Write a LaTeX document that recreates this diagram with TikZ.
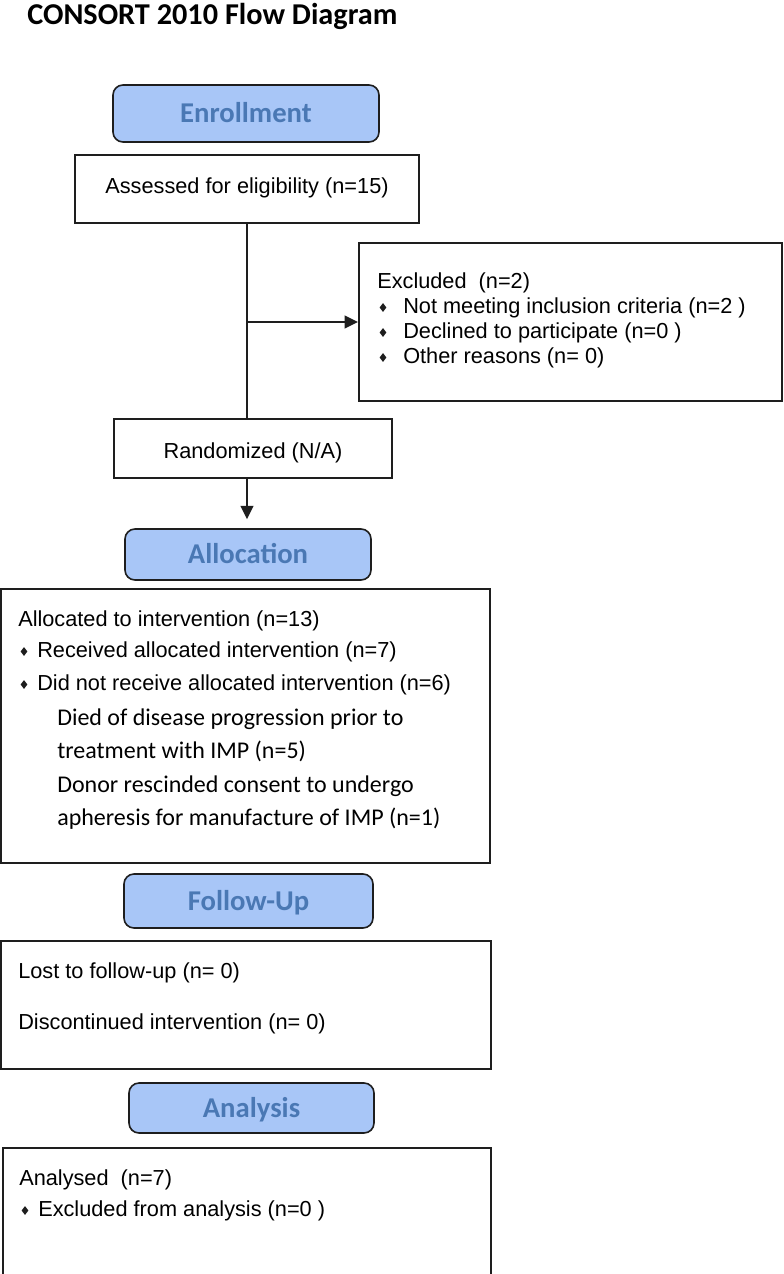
\documentclass[tikz,border=0pt]{standalone}
\usepackage{fontspec}
\setmainfont{Liberation Sans}
\newfontfamily\calib{Carlito}
\usetikzlibrary{arrows.meta}
\definecolor{hdrfill}{HTML}{A8C6F7}
\definecolor{hdrtext}{HTML}{4A78B4}
\definecolor{linec}{HTML}{1E1E1E}
\newcommand\dmd[2]{\fill[linec] (#1,#2) +(0,-4.4) -- +(3.4,0) -- +(0,4.4) -- +(-3.4,0) -- cycle;}
\begin{document}
\begin{tikzpicture}[x=0.75pt,y=-0.75pt,
  box/.style={draw=linec, line width=1.4pt, fill=white, inner sep=0pt},
  hdr/.style={draw=linec, line width=1.2pt, fill=hdrfill, rounded corners=7.5pt, inner sep=0pt,
     text=hdrtext, font=\calib\bfseries\fontsize{21.5}{24}\selectfont, text height=13.9pt, text depth=0pt},
  txt/.style={anchor=base west, inner sep=0pt, font=\fontsize{16.3}{19}\selectfont},
  ctxt/.style={anchor=base west, inner sep=0pt, font=\calib\fontsize{18}{21}\selectfont},
  arr/.style={draw=linec, line width=1.4pt, -{Triangle[length=10pt,width=9.5pt]}},
  conn/.style={draw=linec, line width=1.4pt}]
\useasboundingbox (0,0) rectangle (783,1274);

% title
\node[anchor=base west, inner sep=0pt, font=\calib\bfseries\fontsize{22.7}{26}\selectfont] (title) at (27,24) {CONSORT 2010 Flow Diagram};

% headers
\node[hdr, minimum width=199.5pt, minimum height=42.75pt] (enr) at (246,113.5) {Enrollment};
\node[hdr, minimum width=184.5pt, minimum height=38.25pt] (alh) at (248,554.5) {Allocation};
\node[hdr, minimum width=186.75pt, minimum height=40.5pt] (fuh) at (248.5,901) {Follow-Up};
\node[hdr, minimum width=183.75pt, minimum height=37.5pt] (anh) at (251.5,1108) {Analysis};

% boxes
\node[box, minimum width=258pt, minimum height=51pt] (ass) at (247,189) {};
\node[box, minimum width=317.25pt, minimum height=118.5pt] (exc) at (570.5,322) {};
\node[box, minimum width=208.5pt, minimum height=44.25pt] (rnd) at (253,448.5) {};
\node[box, minimum width=366.75pt, minimum height=205.5pt] (alb) at (245.5,726) {};
\node[box, minimum width=367.5pt, minimum height=96pt] (fub) at (246,1005) {};
\node[box, minimum width=366pt, minimum height=114pt] (anb) at (247,1224) {};

% connectors
\coordinate (j) at (ass.south |- exc.west);
\coordinate (r) at (ass.south |- rnd.south);
\draw[conn] (ass.south) -- (ass.south |- rnd.north);
\draw[arr] (j) -- (exc.west);
\draw[arr, shorten >=6.75pt] (r) -- (r |- alh.north);

% texts
\node[txt, anchor=base] (t-ass) at (247,193) {Assessed for eligibility (n=15)};
\node[txt, anchor=base] (t-rnd) at (253,458) {Randomized (N/A)};

\node[txt] (t-exc) at (377,288) {Excluded~~(n=2)};
\dmd{383}{307.5}\node[txt] (t-exc1) at (403,313) {Not meeting inclusion criteria (n=2 )};
\dmd{383}{332.5}\node[txt] (t-exc2) at (403,338) {Declined to participate (n=0 )};
\dmd{383}{357.5}\node[txt] (t-exc3) at (403,363) {Other reasons (n= 0)};

\node[txt] (t-al) at (18,626) {Allocated to intervention (n=13)};
\dmd{24}{651.5}\node[txt] (t-al1) at (37,657) {Received allocated intervention (n=7)};
\dmd{24}{684.5}\node[txt] (t-al2) at (37,690) {Did not receive allocated intervention (n=6)};
\node[ctxt] (t-al3) at (57,725) {Died of disease progression prior to};
\node[ctxt] (t-al4) at (57,758) {treatment with IMP (n=5)};
\node[ctxt] (t-al5) at (57,792) {Donor rescinded consent to undergo};
\node[ctxt] (t-al6) at (57,825) {apheresis for manufacture of IMP (n=1)};

\node[txt] (t-fu1) at (18,978) {Lost to follow-up (n= 0)};
\node[txt] (t-fu2) at (18,1029) {Discontinued intervention (n= 0)};

\node[txt] (t-an) at (19,1185) {Analysed~~(n=7)};
\dmd{25}{1210.5}\node[txt] (t-an1) at (38,1216) {Excluded from analysis (n=0 )};
\end{tikzpicture}
\end{document}
